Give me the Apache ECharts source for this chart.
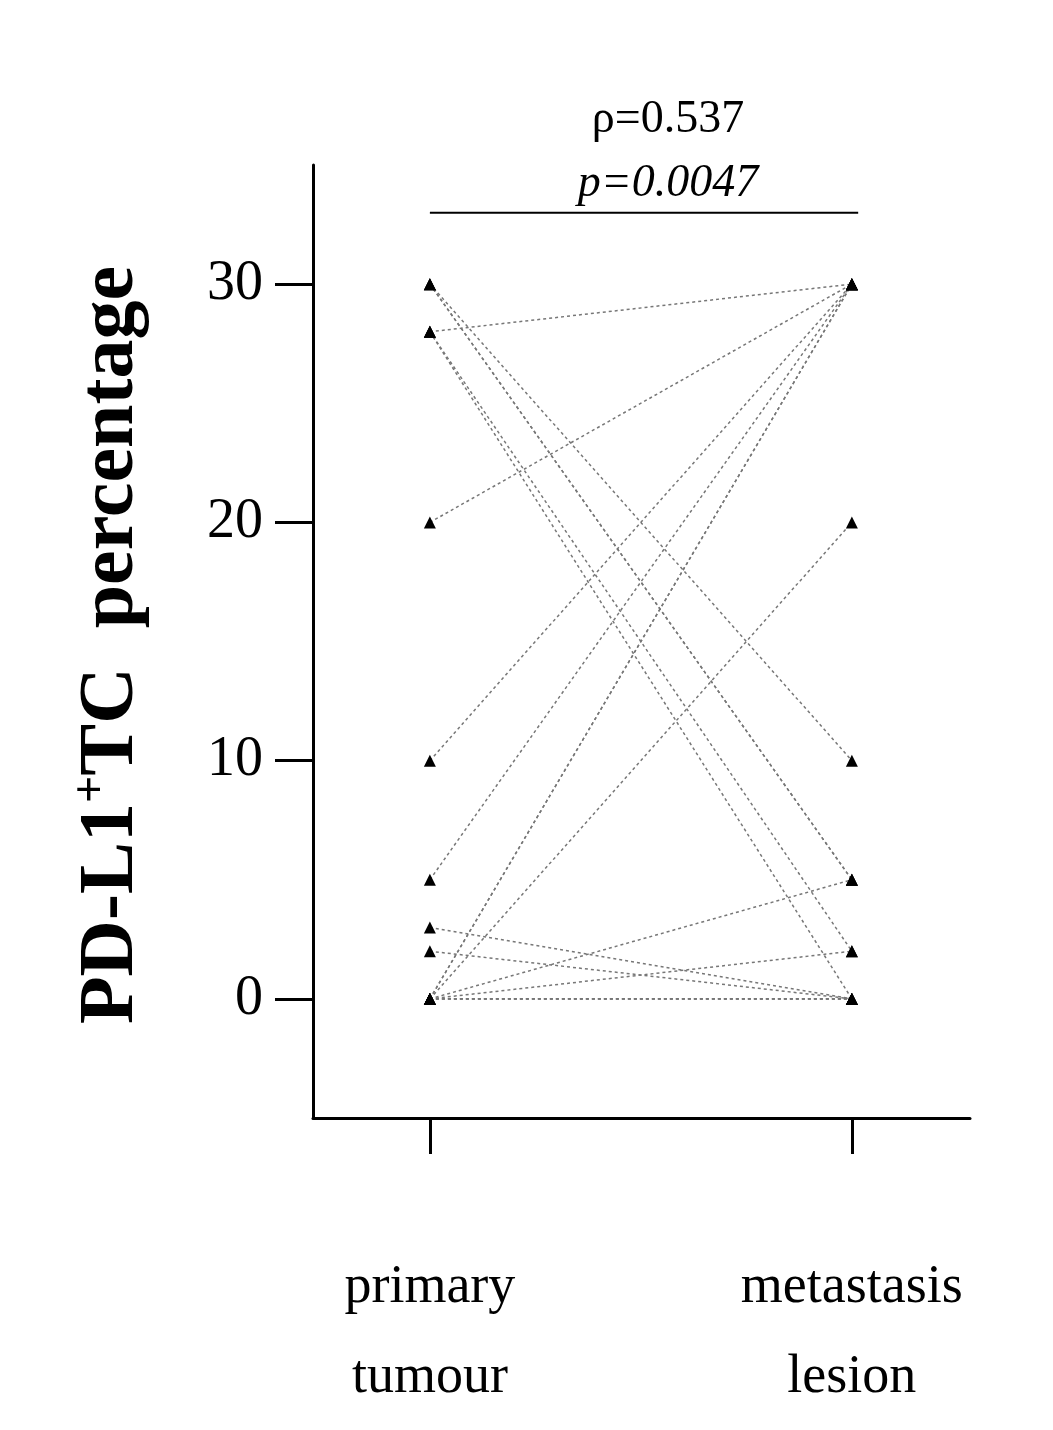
<!DOCTYPE html>
<html><head><meta charset="utf-8">
<script src="https://cdn.jsdelivr.net/npm/echarts@6/dist/echarts.min.js"></script>
<style>body{margin:0;background:#fff}#c{width:1053px;height:1430px}</style>
</head><body><div id="c"></div>
<script>
// paired values: [primary tumour, metastasis lesion]
var primary    = [30, 30, 30, 28, 28, 28, 20, 10, 5, 3, 2, 0, 0, 0, 0, 0, 0, 0, 0];
var metastasis = [5, 5, 10, 30, 2, 0, 30, 30, 30, 0, 0, 30, 30, 20, 5, 2, 0, 0, 0];
var groups = ['primary\ntumour', 'metastasis\nlesion'];
var yTicks = [0, 10, 20, 30];

var font = '"Liberation Serif", "DejaVu Serif", serif';
var series = [];
for (var i = 0; i < primary.length; i++) {
    series.push({
        type: 'line',
        data: [[1, primary[i]], [2, metastasis[i]]],
        symbol: 'triangle',
        symbolSize: 12,
        itemStyle: {color: '#000'},
        lineStyle: {color: '#777', width: 1.5, type: [3, 3]},
        silent: true
    });
}
// bracket line above groups
series.push({
    type: 'line', data: [[1, 33], [2.015, 33]], symbol: 'none',
    lineStyle: {color: '#000', width: 2}, silent: true
});

var chart = echarts.init(document.getElementById('c'));
chart.setOption({
    animation: false,
    grid: {left: 313, top: 165, width: 657, height: 953},
    title: [
        {text: 'ρ=0.537', left: 663, top: 92, textAlign: 'center',
         textStyle: {fontFamily: font, fontSize: 46, fontWeight: 'normal', color: '#000'}},
        {text: 'p=0.0047', left: 663, top: 156, textAlign: 'center',
         textStyle: {fontFamily: font, fontSize: 46, fontWeight: 'normal', fontStyle: 'italic', color: '#000'}}
    ],
    graphic: [{
        type: 'text', x: 112, y: 645, rotation: Math.PI / 2,
        style: {
            text: '{a|PD-L1}{s|+}{a|TC  percentage}',
            align: 'center', verticalAlign: 'middle',
            rich: {
                a: {fontFamily: font, fontSize: 78, fontWeight: 'bold', fill: '#000'},
                s: {fontFamily: font, fontSize: 48, fontWeight: 'bold', fill: '#000', verticalAlign: 'bottom', padding: [0, 0, 38, 0]}
            }
        }
    }],
    xAxis: {
        type: 'value', min: 0.723, max: 2.28,
        axisLine: {onZero: false, lineStyle: {color: '#000', width: 3}},
        splitLine: {show: false},
        axisTick: {show: true, customValues: [1, 2], length: 36, lineStyle: {color: '#000', width: 3}},
        axisLabel: {
            customValues: [1, 2], margin: 125, lineHeight: 90,
            fontFamily: font, fontSize: 54, color: '#000',
            formatter: function (v) { return groups[Math.round(v) - 1]; }
        }
    },
    yAxis: {
        type: 'value', min: -5, max: 35,
        axisLine: {show: true, lineStyle: {color: '#000', width: 3}},
        splitLine: {show: false},
        axisTick: {show: true, customValues: yTicks, length: 38, lineStyle: {color: '#000', width: 3}},
        axisLabel: {customValues: yTicks, margin: 50, fontFamily: font, fontSize: 56, color: '#000'}
    },
    series: series
});
</script></body></html>
